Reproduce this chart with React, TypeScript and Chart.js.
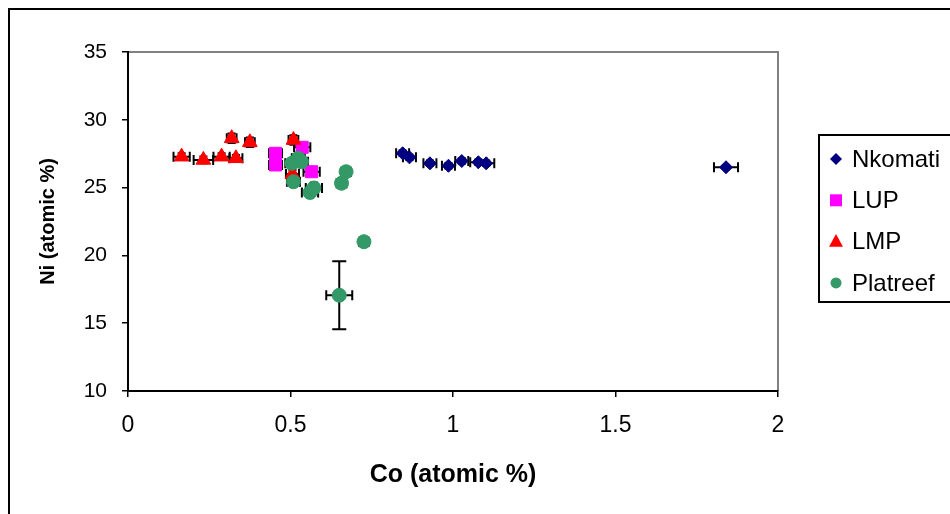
import React, { useEffect, useRef } from "react";
import { Chart, registerables } from "chart.js";

Chart.register(...registerables);

// ---- Data ----
const seriesNames = ["Nkomati", "LUP", "LMP", "Platreef"];
const seriesColors = ["#000080", "#FF00FF", "#FF0000", "#339966"];

const nkomatiCo = [0.845, 0.866, 0.929, 0.986, 1.027, 1.078, 1.102, 1.84];
const nkomatiNi = [27.53, 27.23, 26.79, 26.61, 26.96, 26.87, 26.79, 26.5];
const nkomatiCoErr = [0.02, 0.02, 0.02, 0.02, 0.02, 0.025, 0.025, 0.037];
const nkomatiNiErr = [0.2, 0.2, 0.2, 0.2, 0.2, 0.2, 0.2, 0.15];

const lupCo = [0.454, 0.454, 0.536, 0.565];
const lupNi = [27.53, 26.67, 27.97, 26.17];
const lupCoErr = [0.02, 0.02, 0.025, 0.025];
const lupNiErr = [0.3, 0.3, 0.3, 0.3];

const lmpCo = [0.165, 0.232, 0.288, 0.332, 0.319, 0.375, 0.509, 0.506];
const lmpNi = [27.28, 27.04, 27.28, 27.16, 28.64, 28.34, 28.51, 26.0];
const lmpCoErr = [0.025, 0.03, 0.025, 0.02, 0.015, 0.015, 0.015, 0.02];
const lmpNiErr = [0.25, 0.25, 0.25, 0.25, 0.35, 0.35, 0.35, 0.3];

const platCo = [0.504, 0.524, 0.534, 0.509, 0.56, 0.572, 0.671, 0.657, 0.726, 0.65];
const platNi = [26.79, 27.16, 26.91, 25.43, 24.64, 24.97, 26.17, 25.32, 21.01, 17.06];
const platCoErr = [0.02, 0.02, 0.02, 0.02, 0.025, 0.025, 0.015, 0.015, 0.015, 0.04];
const platNiErr = [0.3, 0.3, 0.3, 0.3, 0.4, 0.4, 0.3, 0.3, 0.2, 2.5];

const xTickLabels = ["0", "0.5", "1", "1.5", "2"];
const yTickLabels = ["10", "15", "20", "25", "30", "35"];

const xTitle = "Co (atomic %)";
const yTitle = "Ni (atomic %)";

const FONT = "'Liberation Sans', Arial, sans-serif";

function pts(co: number[], ni: number[], ce: number[], ne: number[]) {
  return co.map((c, i) => ({ x: c, y: ni[i], xErr: ce[i], yErr: ne[i] }));
}

const pointStyles = ["rectRot", "rect", "triangle", "circle"];
const pointRadii = [6.5, 8.5, 8.5, 7];

const errorBarPlugin = {
  id: "errorBars",
  beforeDatasetsDraw(chart: any) {
    const { ctx } = chart;
    const x = chart.scales.x;
    const y = chart.scales.y;
    ctx.save();
    ctx.strokeStyle = "#000";
    ctx.lineWidth = 2;
    const cap = 5;
    chart.data.datasets.forEach((ds: any) => {
      ds.data.forEach((p: any) => {
        const cx = x.getPixelForValue(p.x);
        const cy = y.getPixelForValue(p.y);
        if (p.xErr) {
          const x0 = x.getPixelForValue(p.x - p.xErr);
          const x1 = x.getPixelForValue(p.x + p.xErr);
          ctx.beginPath();
          ctx.moveTo(x0, cy);
          ctx.lineTo(x1, cy);
          ctx.moveTo(x0, cy - cap);
          ctx.lineTo(x0, cy + cap);
          ctx.moveTo(x1, cy - cap);
          ctx.lineTo(x1, cy + cap);
          ctx.stroke();
        }
        if (p.yErr) {
          const y0 = y.getPixelForValue(p.y - p.yErr);
          const y1 = y.getPixelForValue(p.y + p.yErr);
          const yc = p.yErr > 1 ? cap + 2 : cap - 1;
          ctx.beginPath();
          ctx.moveTo(cx, y0);
          ctx.lineTo(cx, y1);
          ctx.moveTo(cx - yc, y0);
          ctx.lineTo(cx + yc, y0);
          ctx.moveTo(cx - yc, y1);
          ctx.lineTo(cx + yc, y1);
          ctx.stroke();
        }
      });
    });
    ctx.restore();
  },
};

function drawMarker(ctx: CanvasRenderingContext2D, style: string, cx: number, cy: number, r: number) {
  ctx.beginPath();
  if (style === "rectRot") {
    ctx.moveTo(cx, cy - r);
    ctx.lineTo(cx + r, cy);
    ctx.lineTo(cx, cy + r);
    ctx.lineTo(cx - r, cy);
    ctx.closePath();
  } else if (style === "rect") {
    ctx.rect(cx - r, cy - r, 2 * r, 2 * r);
  } else if (style === "triangle") {
    ctx.moveTo(cx, cy - r * 1.1);
    ctx.lineTo(cx + r, cy + r * 0.75);
    ctx.lineTo(cx - r, cy + r * 0.75);
    ctx.closePath();
  } else {
    ctx.arc(cx, cy, r, 0, Math.PI * 2);
  }
  ctx.fill();
}

const framePlugin = {
  id: "frame",
  beforeDraw(chart: any) {
    const { ctx, chartArea } = chart;
    ctx.save();
    ctx.fillStyle = "#fff";
    ctx.fillRect(0, 0, chart.width, chart.height);
    ctx.strokeStyle = "#808080";
    ctx.lineWidth = 2;
    ctx.beginPath();
    ctx.moveTo(chartArea.left, chartArea.top);
    ctx.lineTo(chartArea.right, chartArea.top);
    ctx.lineTo(chartArea.right, chartArea.bottom);
    ctx.stroke();
    ctx.restore();
  },
  afterDraw(chart: any) {
    const { ctx } = chart;
    ctx.save();
    ctx.strokeStyle = "#000";
    ctx.lineWidth = 2;
    ctx.beginPath();
    ctx.moveTo(9, chart.height + 5);
    ctx.lineTo(9, 9);
    ctx.lineTo(chart.width + 5, 9);
    ctx.stroke();

    // legend box
    const lx = 819;
    const ly = 135;
    const lh = 167;
    ctx.strokeRect(lx, ly, chart.width - lx + 10, lh);
    ctx.font = `24px ${FONT}`;
    ctx.textBaseline = "middle";
    ctx.textAlign = "left";
    const legendR = [6, 6, 7, 5.5];
    chart.data.datasets.forEach((ds: any, i: number) => {
      const cy = 159 + i * 41.3;
      ctx.fillStyle = ds.backgroundColor;
      drawMarker(ctx, ds.pointStyle, 836, cy, legendR[i]);
      ctx.fillStyle = "#000";
      ctx.fillText(ds.label, 852, cy + 1);
    });
    ctx.restore();
  },
};

export default function App() {
  const ref = useRef<HTMLCanvasElement | null>(null);

  useEffect(() => {
    if (!ref.current) return;
    const data = [
      pts(nkomatiCo, nkomatiNi, nkomatiCoErr, nkomatiNiErr),
      pts(lupCo, lupNi, lupCoErr, lupNiErr),
      pts(lmpCo, lmpNi, lmpCoErr, lmpNiErr),
      pts(platCo, platNi, platCoErr, platNiErr),
    ];
    const chart = new Chart(ref.current, {
      type: "scatter",
      data: {
        datasets: seriesNames.map((name, i) => ({
          label: name,
          data: data[i],
          backgroundColor: seriesColors[i],
          borderColor: seriesColors[i],
          borderWidth: 1,
          pointStyle: pointStyles[i] as any,
          pointRadius: pointRadii[i],
          pointHoverRadius: pointRadii[i],
          order: seriesNames.length - 1 - i,
        })),
      },
      options: {
        animation: false,
        responsive: false,
        devicePixelRatio: 1,
        layout: { padding: { left: 0, top: 52, right: 172, bottom: 0 } },
        plugins: {
          legend: { display: false },
          tooltip: { enabled: false },
        },
        scales: {
          x: {
            type: "linear",
            min: 0,
            max: 2,
            afterFit: (s: any) => {
              s.height = 123;
            },
            afterBuildTicks: (s: any) => {
              s.ticks = xTickLabels.map((t) => ({ value: parseFloat(t) }));
            },
            ticks: {
              callback: (v: any) => xTickLabels.find((t) => parseFloat(t) === v) ?? "",
              color: "#000",
              font: { family: FONT, size: 23 },
              padding: 15,
              maxRotation: 0,
            },
            grid: { drawOnChartArea: false, drawTicks: true, tickLength: 6, color: "#000", lineWidth: 1.5 },
            border: { color: "#000", width: 2 },
            title: {
              display: true,
              text: xTitle,
              color: "#000",
              font: { family: FONT, size: 25, weight: "bold" },
              padding: { top: 0, bottom: 24 },
            },
          },
          y: {
            type: "linear",
            min: 10,
            max: 35,
            afterFit: (s: any) => {
              s.width = 128;
            },
            afterBuildTicks: (s: any) => {
              s.ticks = yTickLabels.map((t) => ({ value: parseFloat(t) }));
            },
            ticks: {
              callback: (v: any) => yTickLabels.find((t) => parseFloat(t) === v) ?? "",
              color: "#000",
              font: { family: FONT, size: 21 },
              padding: 15,
            },
            grid: { drawOnChartArea: false, drawTicks: true, tickLength: 6, color: "#000", lineWidth: 1.5 },
            border: { color: "#000", width: 2 },
            title: {
              display: true,
              text: yTitle,
              color: "#000",
              font: { family: FONT, size: 20, weight: "bold" },
              padding: { top: 36, bottom: 0 },
            },
          },
        },
      },
      plugins: [framePlugin, errorBarPlugin],
    });
    return () => chart.destroy();
  }, []);

  return (
    <div style={{ position: "fixed", left: 0, top: 0, width: 950, height: 514, overflow: "hidden", background: "#fff" }}>
      <canvas ref={ref} width={950} height={514} style={{ display: "block", width: 950, height: 514 }} />
    </div>
  );
}
